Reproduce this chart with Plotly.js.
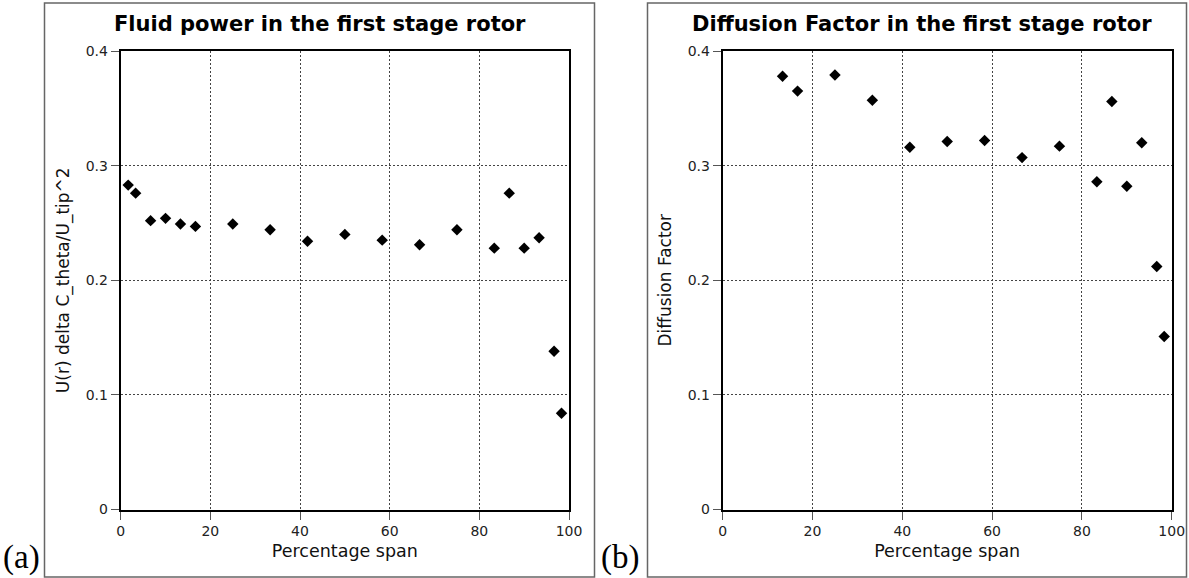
<!DOCTYPE html>
<html>
<head>
<meta charset="utf-8">
<script src="https://cdn.plot.ly/plotly-3.0.1.min.js"></script>
<style>
  html, body { margin: 0; padding: 0; background: #fff; }
  #chart { width: 1189px; height: 578px; }
</style>
</head>
<body>
<div id="chart"></div>
<script>
// Radial stations (percentage span) and measured quantities for the first stage rotor
const spanPower = [1.67, 3.33, 6.67, 10, 13.33, 16.67, 25, 33.33, 41.67, 50, 58.33, 66.67, 75, 83.33, 86.67, 90, 93.33, 96.67, 98.33];
const fluidPower = [0.283, 0.276, 0.252, 0.254, 0.249, 0.247, 0.249, 0.244, 0.234, 0.240, 0.235, 0.231, 0.244, 0.228, 0.276, 0.228, 0.237, 0.138, 0.084];

const spanDiffusion = [13.33, 16.67, 25, 33.33, 41.67, 50, 58.33, 66.67, 75, 83.33, 86.67, 90, 93.33, 96.67, 98.33];
const diffusionFactor = [0.378, 0.365, 0.379, 0.357, 0.316, 0.321, 0.322, 0.307, 0.317, 0.286, 0.356, 0.282, 0.320, 0.212, 0.151];

const xTickVals = [0, 20, 40, 60, 80, 100];
const xTickText = ['0', '20', '40', '60', '80', '100'];
const yTickVals = [0, 0.1, 0.2, 0.3, 0.4];
const yTickText = ['0', '0.1', '0.2', '0.3', '0.4'];

const titles = ['Fluid power in the first stage rotor', 'Diffusion Factor in the first stage rotor'];
const yTitles = ['U(r) delta C_theta/U_tip^2', 'Diffusion Factor'];
const xTitle = 'Percentage span';
const panelTags = ['(a)', '(b)'];

// figure size in pixels and helpers converting pixel positions to paper fractions
const W = 1189, H = 578;
const px = v => v / W;
const py = v => 1 - v / H;

const FONT = 'DejaVu Sans, sans-serif';

const marker = { symbol: 'diamond', size: 8.8, color: '#000', line: { width: 0 } };

const traces = [
  { x: spanPower, y: fluidPower, xaxis: 'x', yaxis: 'y', type: 'scatter', mode: 'markers', marker: marker, hoverinfo: 'x+y' },
  { x: spanDiffusion, y: diffusionFactor, xaxis: 'x2', yaxis: 'y2', type: 'scatter', mode: 'markers', marker: marker, hoverinfo: 'x+y' }
];

function xAxis(domain, anchor) {
  return {
    domain: domain, anchor: anchor, range: [0, 100],
    tickvals: xTickVals, ticktext: xTickText,
    ticks: 'outside', ticklen: 8, tickwidth: 1, tickcolor: '#555',
    tickfont: { family: FONT, size: 14, color: '#222' },
    showline: true, linecolor: '#000', linewidth: 2, mirror: true,
    showgrid: true, gridcolor: '#444', gridwidth: 1, griddash: '2px,2px',
    zeroline: false,
    title: { text: xTitle, font: { family: FONT, size: 17.5, color: '#111' }, standoff: 6 }
  };
}
function yAxis(domain, anchor, t) {
  return {
    domain: domain, anchor: anchor, range: [0, 0.4],
    tickvals: yTickVals, ticktext: yTickText,
    ticks: 'outside', ticklen: 8, tickwidth: 1, tickcolor: '#555',
    tickfont: { family: FONT, size: 14, color: '#222' },
    showline: true, linecolor: '#000', linewidth: 2, mirror: true,
    showgrid: true, gridcolor: '#444', gridwidth: 1, griddash: '2px,2px',
    zeroline: false,
    title: { text: t, font: { family: FONT, size: 17, color: '#111' }, standoff: 12 }
  };
}

const yDom = [py(509.5), py(51)];
const boxes = [[44.5, 594.5], [647.5, 1186.5]];

const layout = {
  width: W, height: H,
  margin: { l: 0, r: 0, t: 0, b: 0 },
  paper_bgcolor: '#fff', plot_bgcolor: '#fff',
  showlegend: false,
  xaxis: xAxis([px(120.7), px(569)], 'y'),
  yaxis: yAxis(yDom, 'x', yTitles[0]),
  xaxis2: xAxis([px(722.7), px(1171.7)], 'y2'),
  yaxis2: yAxis(yDom, 'x2', yTitles[1]),
  shapes: boxes.map(b => ({
    type: 'rect', xref: 'paper', yref: 'paper',
    x0: px(b[0]), x1: px(b[1]), y0: py(577), y1: py(3),
    line: { color: '#666', width: 1.5 }, fillcolor: 'rgba(0,0,0,0)', layer: 'below'
  })),
  annotations: [
    { text: '<b>' + titles[0] + '</b>', xref: 'paper', yref: 'paper', x: px(319.5), y: py(23.5), xanchor: 'center', yanchor: 'middle', showarrow: false, font: { family: FONT, size: 21, color: '#000' } },
    { text: '<b>' + titles[1] + '</b>', xref: 'paper', yref: 'paper', x: px(922), y: py(23.5), xanchor: 'center', yanchor: 'middle', showarrow: false, font: { family: FONT, size: 21, color: '#000' } },
    { text: panelTags[0], xref: 'paper', yref: 'paper', x: px(1), y: 0, xanchor: 'left', yanchor: 'bottom', showarrow: false, font: { family: 'Liberation Serif, serif', size: 33, color: '#000' } },
    { text: panelTags[1], xref: 'paper', yref: 'paper', x: px(599), y: 0, xanchor: 'left', yanchor: 'bottom', showarrow: false, font: { family: 'Liberation Serif, serif', size: 33, color: '#000' } }
  ]
};

Plotly.newPlot('chart', traces, layout, { staticPlot: true, displayModeBar: false });
</script>
</body>
</html>
